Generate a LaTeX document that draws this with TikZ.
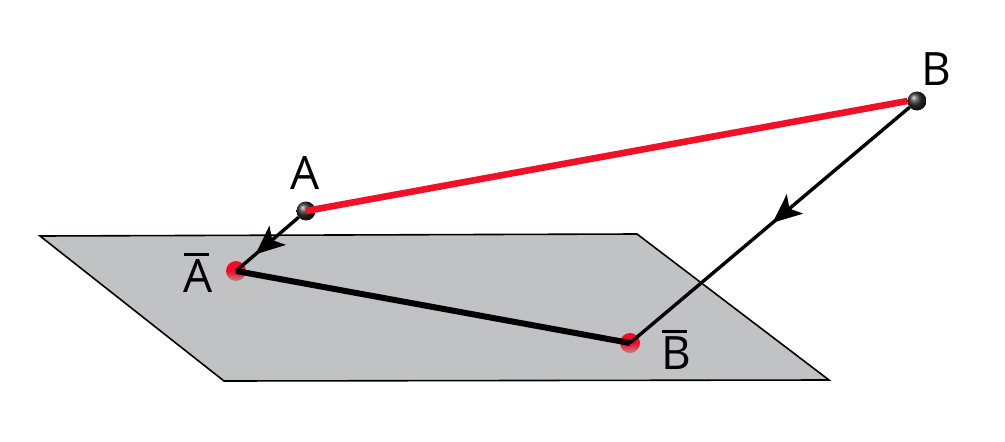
\documentclass[tikz,border=0pt]{standalone}
\usepackage{fontspec}
\setmainfont{Open Sans}
\usetikzlibrary{arrows.meta,decorations.markings}
\definecolor{planegray}{RGB}{193,194,196}
\definecolor{redline}{RGB}{240,16,40}
\definecolor{ballred}{RGB}{245,10,40}
\definecolor{ballpale}{RGB}{190,130,135}
\tikzset{
  plane/.style={draw=black,line width=1.6pt,fill=planegray,line join=miter},
  ptball/.style={circle,inner sep=0pt,minimum size=19pt,draw=none,ball color=black!82!white},
  redball/.style={circle,inner sep=0pt,minimum size=20pt,draw=none,top color=ballred,bottom color=ballpale,middle color=ballred},
  seg/.style={line width=6.6pt,draw=redline},
  segblack/.style={line width=6pt,draw=black},
  proj/.style={line width=3.4pt,draw=black,postaction={decorate}},
  lbl/.style={inner sep=0pt,font=\fontsize{46}{46}\selectfont,text=black,anchor=base},
  tipat/.style={decoration={markings,mark=at position #1 with {\arrow{Stealth[length=29pt,width=25pt,inset=7pt]}}}}
}
\newcommand{\barred}[1]{\rlap{\hspace{0.5pt}\raisebox{36pt}{\rule{25pt}{2.8pt}}}#1}
\begin{document}
\begin{tikzpicture}[x=1pt,y=-1pt]
\useasboundingbox (0,0) rectangle (1005,442);
\coordinate (p1) at (40,236);
\coordinate (p2) at (637,234);
\coordinate (p3) at (829,380);
\coordinate (p4) at (224,381);
\draw[plane] (p1) -- (p2) -- (p3) -- (p4) -- cycle;
\node[redball] (Ap) at (236,271) {};
\node[redball] (Bp) at (630,343) {};
\node[ptball] (A) at (306,211) {};
\node[ptball] (B) at (917,101) {};
\draw[seg] (A.center) -- (B.west);
\draw[segblack] (Ap.center) -- (Bp.center);
\draw[proj,tipat=0.69] (A) -- (Ap.center);
\draw[proj,tipat=0.49] (B) -- (Bp.center);
\node[lbl] (LA) at (305,189) {A};
\node[lbl] (LB) at (936,85) {B};
\node[lbl] (LAp) at (198,292) {\barred{A}};
\node[lbl] (LBp) at (676,369) {\barred{B}};
\end{tikzpicture}
\end{document}
